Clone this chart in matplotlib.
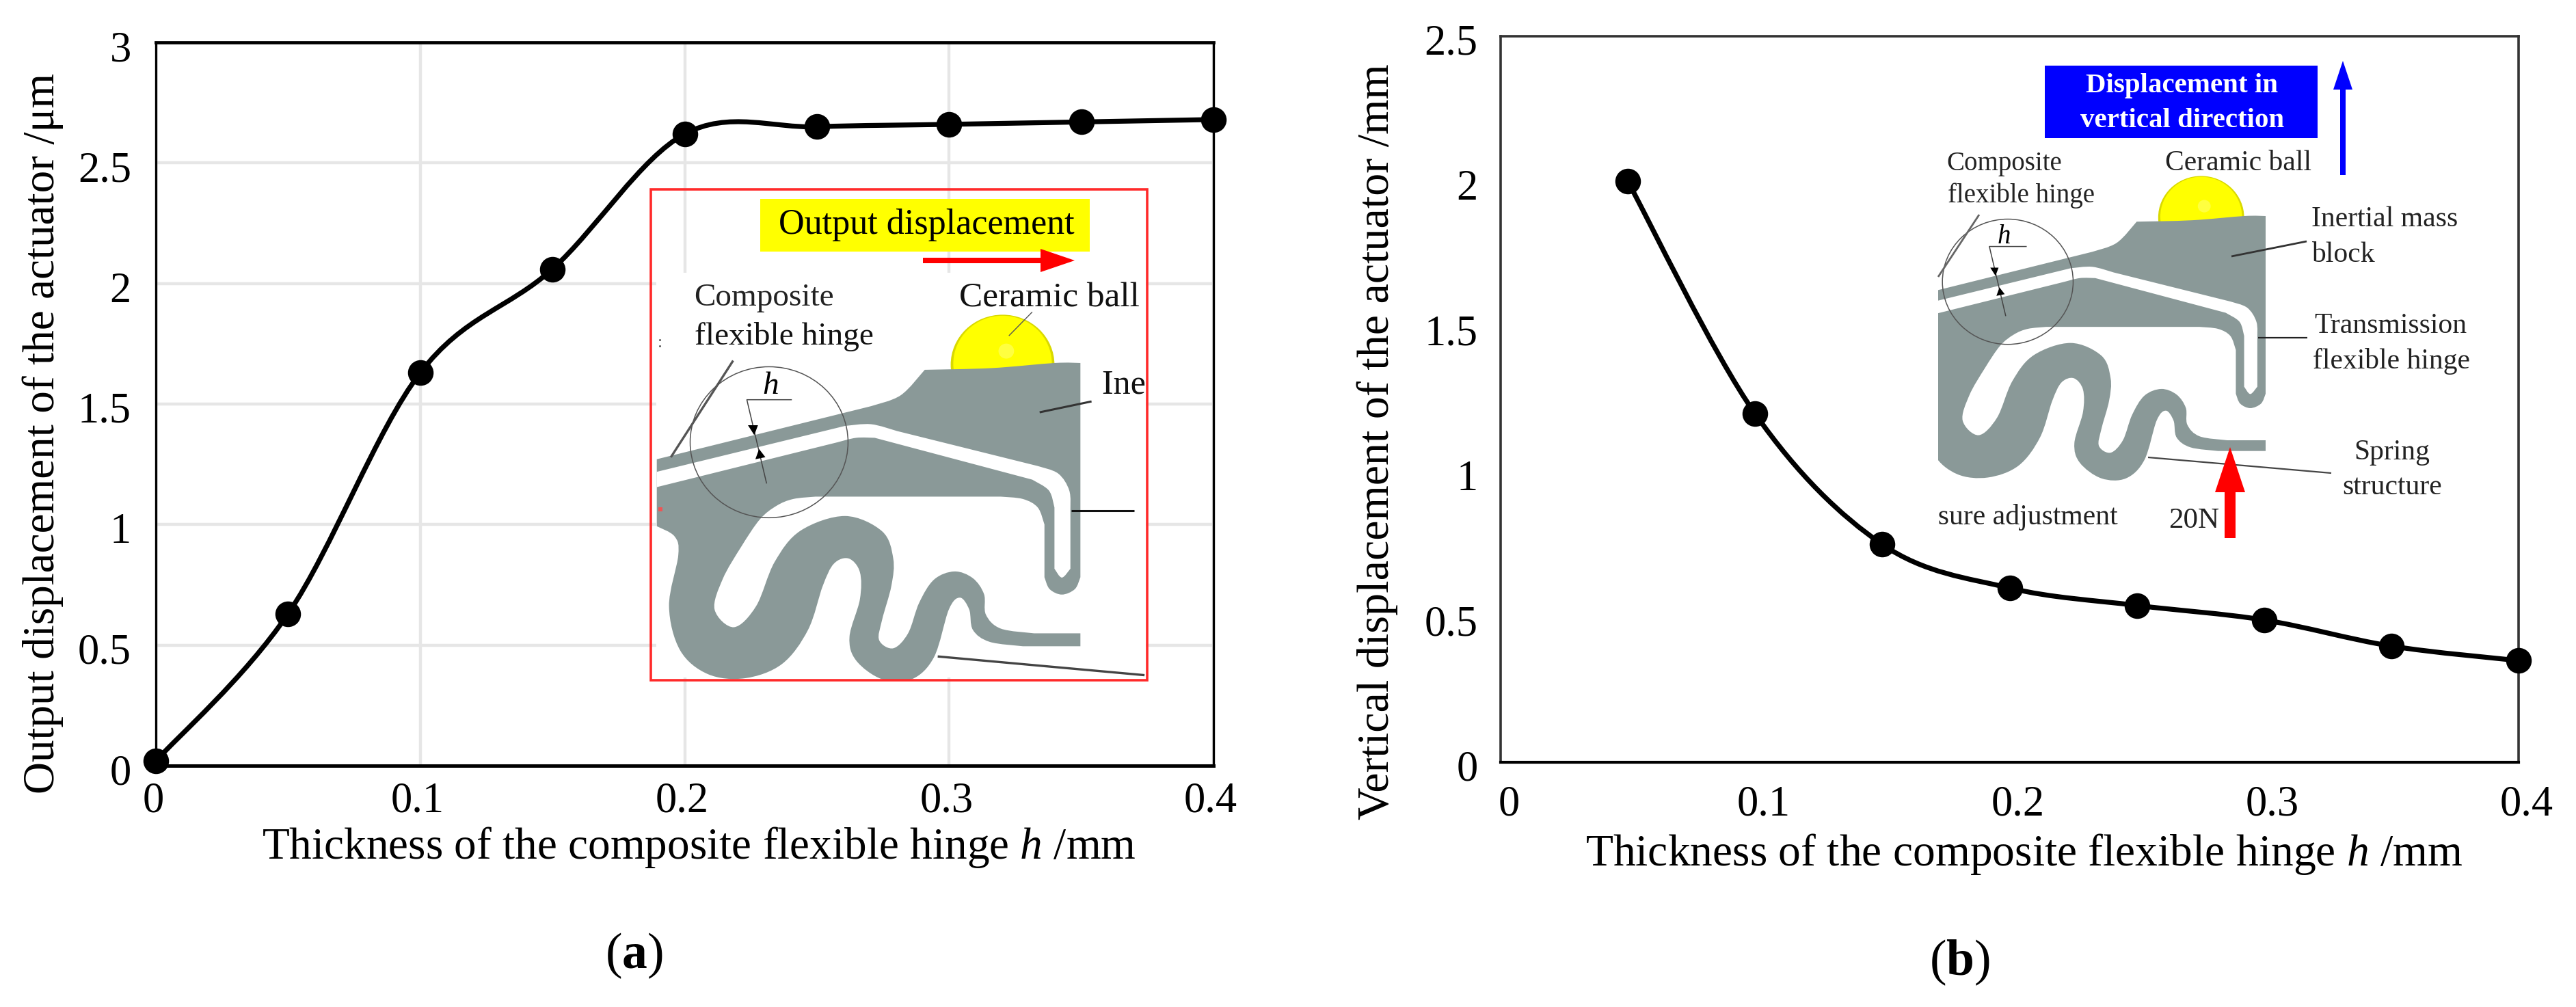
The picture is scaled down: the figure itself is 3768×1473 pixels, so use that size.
import numpy as np
import matplotlib
matplotlib.use('Agg')
import matplotlib.pyplot as plt
from matplotlib.path import Path
from matplotlib.patches import PathPatch, Rectangle, Ellipse, FancyArrow, Polygon
from matplotlib.transforms import ScaledTranslation

plt.rcParams['font.family'] = ['Liberation Serif', 'DejaVu Serif']
plt.rcParams['mathtext.fontset'] = 'custom'
plt.rcParams['mathtext.rm'] = 'Liberation Serif'
plt.rcParams['mathtext.it'] = 'Liberation Serif:italic'
plt.rcParams['mathtext.bf'] = 'Liberation Serif:bold'

W, H = 3768, 1473

# panel (a) data
thick_a = [0, 0.05, 0.1, 0.15, 0.2, 0.25, 0.3, 0.35, 0.4]
output_disp = [0.02, 0.63, 1.63, 2.06, 2.62, 2.65, 2.66, 2.67, 2.68]
xticks_a = [0, 0.1, 0.2, 0.3, 0.4]
xlabels_a = ['0', '0.1', '0.2', '0.3', '0.4']
yticks_a = [0, 0.5, 1, 1.5, 2, 2.5, 3]
ylabels_a = ['0', '0.5', '1', '1.5', '2', '2.5', '3']

# panel (b) data
thick_b = [0.05, 0.1, 0.15, 0.2, 0.25, 0.3, 0.35, 0.4]
vertical_disp = [2.0, 1.2, 0.75, 0.6, 0.54, 0.49, 0.4, 0.35]
xticks_b = [0, 0.1, 0.2, 0.3, 0.4]
xlabels_b = ['0', '0.1', '0.2', '0.3', '0.4']
yticks_b = [0, 0.5, 1, 1.5, 2, 2.5]
ylabels_b = ['0', '0.5', '1', '1.5', '2', '2.5']

xlabel_text = 'Thickness of the composite flexible hinge $\\mathit{h}$ /mm'
ylabel_a = 'Output displacement of the actuator /μm'
ylabel_b = 'Vertical displacement of the actuator /mm'

GRAY = '#8a9998'


def bezier_run(pts):
    # smooth curve through the points, same idea as the spreadsheet "smooth line"
    pts = np.asarray(pts, dtype=float)
    verts = []
    n = len(pts)
    for i in range(n - 1):
        p0 = pts[max(i - 1, 0)]
        p1 = pts[i]
        p2 = pts[i + 1]
        p3 = pts[min(i + 2, n - 1)]
        verts += [p1 + (p2 - p0) / 6, p2 - (p3 - p1) / 6, p2]
    return verts


def smooth_path(runs):
    # each run is smoothed, the joins between runs stay sharp
    verts = [runs[0][0]]
    codes = [Path.MOVETO]
    for run in runs:
        if tuple(verts[-1]) != tuple(run[0]):
            verts.append(run[0])
            codes.append(Path.LINETO)
        v = bezier_run(run)
        verts += v
        codes += [Path.CURVE4] * len(v)
    verts.append(runs[0][0])
    codes.append(Path.LINETO)
    return np.array(verts, dtype=float), codes


def make_axes(x0, y0, x1, y1):
    return fig.add_axes([x0 / W, 1 - y1 / H, (x1 - x0) / W, (y1 - y0) / H])


def shift_labels(labels, dx, dy):
    off = ScaledTranslation(dx / 100, dy / 100, fig.dpi_scale_trans)
    for lab in labels:
        lab.set_transform(lab.get_transform() + off)


def plot_series(ax, xs, ys):
    v = bezier_run(np.column_stack([xs, ys]))
    verts = np.vstack([[xs[0], ys[0]], v])
    codes = [Path.MOVETO] + [Path.CURVE4] * len(v)
    ax.add_patch(PathPatch(Path(verts, codes), fill=False, edgecolor='black', lw=5.2, zorder=4, clip_on=False))
    ax.plot(xs, ys, 'o', color='black', ms=27, mew=0, zorder=5, clip_on=False)


fig = plt.figure(figsize=(W / 100, H / 100), dpi=100)

# ---- panel a
ax = make_axes(228, 62, 1775, 1120)
ax.set_xlim(0, 0.4)
ax.set_ylim(0, 3)
ax.grid(True, color='#e6e6e6', lw=3.2, zorder=0)
ax.set_axisbelow(True)
plot_series(ax, thick_a, output_disp)
ax.set_xticks(xticks_a)
ax.set_xticklabels(xlabels_a, fontsize=45)
ax.set_yticks(yticks_a)
ax.set_yticklabels(ylabels_a, fontsize=45)
ax.tick_params(axis='x', length=0, pad=17)
ax.tick_params(axis='y', length=0, pad=26)
shift_labels(ax.get_xticklabels(), -4, 0)
shift_labels(ax.get_yticklabels(), 0, -5)
for side in ax.spines:
    ax.spines[side].set_linewidth(2.4)
ax.spines['top'].set_linewidth(3.4)
ax.spines['bottom'].set_linewidth(3.6)
ax.set_xlabel(xlabel_text, fontsize=47, va='center')
ax.xaxis.set_label_coords((1022 - 228) / 1547, (1120 - 1240) / 1058)
ax.set_ylabel(ylabel_a, fontsize=47, va='center', ha='center')
ax.yaxis.set_label_coords((63 - 228) / 1547, (1120 - 634) / 1058)

# ---- panel b
bx = make_axes(2195, 53, 3684, 1115)
bx.set_xlim(0, 0.4)
bx.set_ylim(0, 2.5)
plot_series(bx, thick_b, vertical_disp)
bx.set_xticks(xticks_b)
bx.set_xticklabels(xlabels_b, fontsize=45)
bx.set_yticks(yticks_b)
bx.set_yticklabels(ylabels_b, fontsize=45)
bx.tick_params(axis='x', length=0, pad=24)
bx.tick_params(axis='y', length=0, pad=24)
shift_labels(bx.get_xticklabels(), 12, 0)
shift_labels(bx.get_yticklabels(), 0, -5)
for side in bx.spines:
    bx.spines[side].set_linewidth(2.6)
    bx.spines[side].set_color('#333333')
bx.spines['bottom'].set_color('black')
bx.spines['bottom'].set_linewidth(3)
bx.set_xlabel(xlabel_text, fontsize=47.2, va='center')
bx.xaxis.set_label_coords((2961 - 2195) / 1489, (1115 - 1250) / 1062)
bx.set_ylabel(ylabel_b, fontsize=47.5, va='center', ha='center')
bx.yaxis.set_label_coords((2015 - 2195) / 1489, (1115 - 646) / 1062)

# overlay in image pixels for the pasted schematics
ov = fig.add_axes([0, 0, 1, 1], zorder=10)
ov.set_xlim(0, W)
ov.set_ylim(H, 0)
ov.axis('off')
ov.patch.set_visible(False)

ov.text(927, 1398, '($\\mathbf{a}$)', fontsize=53, ha='center', va='center')
ov.text(2866, 1408, '($\\mathbf{b}$)', fontsize=53, ha='center', va='center')

# outline of the part, in one common drawing frame
body_runs = [
    [(112, 868), (690, 712)],
    [(690, 712), (770, 680), (835, 605)],
    [(835, 605), (1015, 600), (1185, 585), (1255, 585)],
    [(1255, 585), (1255, 1215)],
    [(1255, 1215), (1240, 1250), (1205, 1266), (1172, 1250), (1158, 1215)],
    [(1158, 1215), (1158, 1060)],
    [(1158, 1060), (1140, 1010), (1100, 985), (1040, 978)],
    [(1040, 978), (540, 978)],
    [(540, 978), (480, 985), (435, 1005), (390, 1045), (340, 1125), (290, 1220), (268, 1310),
     (320, 1362), (380, 1300), (430, 1170), (500, 1078), (620, 1035), (720, 1080), (750, 1160),
     (745, 1240), (720, 1340), (712, 1400), (750, 1424), (790, 1380), (820, 1290), (860, 1222),
     (915, 1198), (965, 1218), (995, 1265), (1000, 1325), (1040, 1366), (1130, 1380)],
    [(1130, 1380), (1255, 1380)],
    [(1255, 1380), (1255, 1418)],
    [(1255, 1418), (1100, 1418)],
    [(1100, 1418), (1010, 1405), (965, 1370), (955, 1310), (930, 1275), (900, 1310),
     (860, 1450), (800, 1515), (720, 1515), (650, 1460), (632, 1390), (660, 1280), (660, 1200),
     (630, 1160), (590, 1175), (560, 1240), (520, 1370), (450, 1470), (350, 1512), (250, 1500),
     (175, 1430), (145, 1300), (170, 1150), (160, 1095), (112, 1065)],
]
slit_runs = [
    [(112, 905), (620, 770)],
    [(620, 770), (690, 765), (760, 785)],
    [(760, 785), (1140, 888)],
    [(1140, 888), (1195, 910), (1225, 960), (1228, 1020)],
    [(1228, 1020), (1228, 1190)],
    [(1228, 1190), (1205, 1216), (1185, 1190)],
    [(1185, 1190), (1185, 1010)],
    [(1185, 1010), (1170, 960), (1125, 928)],
    [(1125, 928), (700, 805)],
    [(700, 805), (650, 805), (600, 818)],
    [(600, 818), (112, 950)],
]


def draw_part(tf, clip):
    # tf maps the drawing frame to image pixels
    def add(p):
        ov.add_patch(p)
        p.set_clip_path(clip)
        return p

    c = tf(np.array([[1045, 590], [1185, 737]]))
    rx, ry = c[1] - c[0]
    add(Ellipse(c[0], 2 * rx, 2 * ry, fc='#d9d900', ec='none', zorder=2))
    add(Ellipse(c[0] + [0, -ry * 0.02], 1.9 * rx, 1.92 * ry, fc='#ffff00', ec='none', zorder=2))
    add(Ellipse(tf(np.array([[1055, 550]]))[0], 0.3 * rx, 0.3 * ry, fc='#ffff40', ec='none', zorder=2))

    v, codes = smooth_path(body_runs)
    add(PathPatch(Path(tf(v), codes), fc=GRAY, ec='none', zorder=3))
    v, codes = smooth_path(slit_runs)
    add(PathPatch(Path(tf(v), codes), fc='white', ec='none', zorder=4))

    # detail circle and dimension for h
    c = tf(np.array([[415, 818], [628, 1040]]))
    rx, ry = c[1] - c[0]
    add(Ellipse(c[0], 2 * rx, 2 * ry, fc='none', ec='#555555', lw=1.1, zorder=5))
    p = tf(np.array([[475, 693], [355, 693], [408, 938]]))
    ov.plot(p[:, 0], p[:, 1], color='#444444', lw=1.1, zorder=5)
    for tri in ([(358, 768), (385, 768), (375, 797)], [(378, 868), (405, 862), (388, 838)]):
        add(Polygon(tf(np.array(tri, dtype=float)), fc='black', ec='none', zorder=6))


def leader(pts, color='#333333', lw=1.8):
    pts = np.array(pts, dtype=float)
    ov.plot(pts[:, 0], pts[:, 1], color=color, lw=lw, zorder=7, solid_capstyle='butt')


def tf_a(p):
    p = np.asarray(p, dtype=float)
    return np.column_stack([900 + p[:, 0] * 0.5421, 240 + p[:, 1] * 0.4974])


def tf_b(p):
    p = np.asarray(p, dtype=float)
    return np.column_stack([3314 + (p[:, 0] - 1255) * 0.449, 316 + (p[:, 1] - 585) * 0.4126])


# ---- schematic in panel a
ov.add_patch(Rectangle((960, 399), 716, 592, fc='white', ec='none', zorder=1))
ov.add_patch(Rectangle((951.5, 277), 726, 718, fc='none', ec='#ff2a2a', lw=2.6, zorder=8))
clip_a = Rectangle((960, 277), 716, 718, transform=ov.transData)
draw_part(tf_a, clip_a)
ov.add_patch(Rectangle((1112, 291), 482, 77, fc='#ffff00', ec='none', zorder=2))
ov.text(1355, 329, 'Output displacement', fontsize=37.5, ha='center', va='center', zorder=9)
ov.add_patch(FancyArrow(1350, 381, 222, 0, width=8, head_width=34, head_length=50,
                        length_includes_head=True, fc='#ff0000', ec='none', zorder=9))
ov.text(1015, 436, 'Composite', fontsize=34, va='center', color='#222222', zorder=9)
ov.text(1016, 493, 'flexible hinge', fontsize=34, va='center', color='#111111', zorder=9)
ov.text(1403, 436, 'Ceramic ball', fontsize=37, va='center', color='#111111', zorder=9)
t = ov.text(1612, 564, 'Inertial mass', fontsize=36, va='center', color='#111111', zorder=9, clip_on=True)
t.set_clip_path(Rectangle((960, 277), 715, 718, transform=ov.transData))
ov.text(1127, 565, 'h', fontsize=34, style='italic', ha='center', va='center', zorder=9)
leader(tf_a([(318, 578), (150, 862)]), '#555555', 2.4)
leader(tf_a([(1125, 435), (1062, 505)]), '#555555', 1)
leader(tf_a([(1285, 698), (1145, 730)]), '#333333', 2.2)
leader(tf_a([(1230, 1020), (1400, 1020)]), '#111111', 2.2)
leader(tf_a([(870, 1448), (1428, 1503)]), '#444444', 2.4)
ov.plot(*tf_a([(122, 1015)])[0], 's', color='#ee5555', ms=5, mew=0, zorder=7)
ov.text(962, 502, ':', fontsize=18, color='#555555', va='center', zorder=7)

# ---- schematic in panel b
clip_b = Rectangle((2835, 200), 600, 600, transform=ov.transData)
draw_part(tf_b, clip_b)
ov.add_patch(Rectangle((2991, 96), 399, 106, fc='#0000ff', ec='none', zorder=2))
ov.text(3192, 125, 'Displacement in', fontsize=29.5, weight='bold', color='white',
        ha='center', va='center', zorder=9)
ov.text(3192, 176, 'vertical direction', fontsize=29.5, weight='bold', color='white',
        ha='center', va='center', zorder=9)
ov.add_patch(FancyArrow(3427, 256, 0, -167, width=8, head_width=28, head_length=42,
                        length_includes_head=True, fc='#0000ff', ec='none', zorder=9))
ov.add_patch(FancyArrow(3262, 787, 0, -133, width=16, head_width=44, head_length=66,
                        length_includes_head=True, fc='#ff0000', ec='none', zorder=9))
ov.text(2847, 239, 'Composite', fontsize=28, va='center', color='#222222', zorder=9)
ov.text(2849, 286, 'flexible hinge', fontsize=28, va='center', color='#222222', zorder=9)
ov.text(3167, 239, 'Ceramic ball', fontsize=30, va='center', color='#222222', zorder=9)
ov.text(2931, 346, 'h', fontsize=28, style='italic', ha='center', va='center', zorder=9)
ov.text(3381, 321, 'Inertial mass', fontsize=30, va='center', color='#222222', zorder=9)
ov.text(3381, 373, 'block', fontsize=30, va='center', color='#222222', zorder=9)
ov.text(3385, 477, 'Transmission', fontsize=30, va='center', color='#222222', zorder=9)
ov.text(3383, 528, 'flexible hinge', fontsize=30, va='center', color='#222222', zorder=9)
ov.text(3499, 662, 'Spring', fontsize=30, ha='center', va='center', color='#222222', zorder=9)
ov.text(3499, 713, 'structure', fontsize=30, ha='center', va='center', color='#222222', zorder=9)
ov.text(3209, 762, '20N', fontsize=31, ha='center', va='center', color='#222222', zorder=9)
t = ov.text(3098, 756, 'Pressure adjustment', fontsize=30, ha='right', va='center', color='#222222',
            zorder=9, clip_on=True)
t.set_clip_path(Rectangle((2835, 700), 400, 100, transform=ov.transData))
leader([(2895, 314), (2835, 405)], '#666666', 2)
leader([(3264, 375), (3374, 353)], '#333333', 2)
leader([(3303, 494), (3375, 494)], '#222222', 1.6)
leader([(3142, 669), (3410, 692)], '#444444', 1.6)

fig.savefig('out.png', dpi=100)
